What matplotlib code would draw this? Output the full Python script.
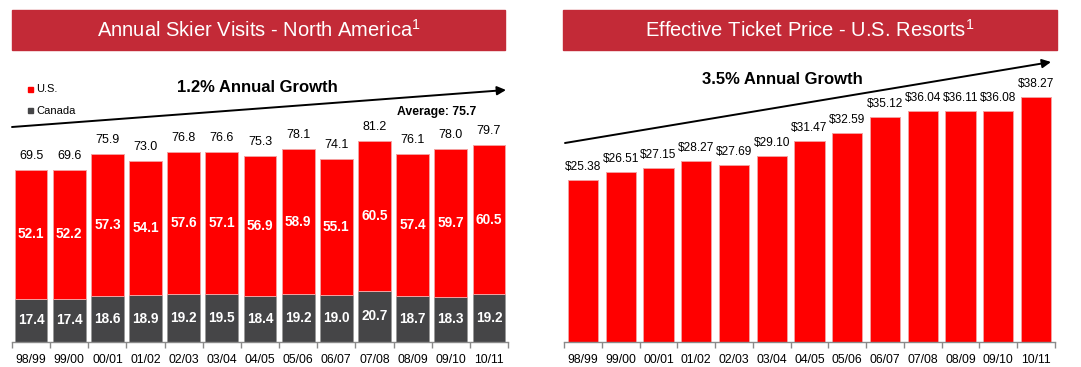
import numpy as np
import matplotlib
matplotlib.use("Agg")
import matplotlib.pyplot as plt
from matplotlib.patches import Rectangle

plt.rcParams['font.family'] = ['Liberation Sans', 'DejaVu Sans']
plt.rcParams['mathtext.fontset'] = 'custom'
plt.rcParams['mathtext.rm'] = 'Liberation Sans'

# ── Data ──────────────────────────────────────────────────────────
seasons = ["98/99", "99/00", "00/01", "01/02", "02/03", "03/04", "04/05",
           "05/06", "06/07", "07/08", "08/09", "09/10", "10/11"]
us_visits     = [52.1, 52.2, 57.3, 54.1, 57.6, 57.1, 56.9, 58.9, 55.1, 60.5, 57.4, 59.7, 60.5]
canada_visits = [17.4, 17.4, 18.6, 18.9, 19.2, 19.5, 18.4, 19.2, 19.0, 20.7, 18.7, 18.3, 19.2]
total_visits  = [69.5, 69.6, 75.9, 73.0, 76.8, 76.6, 75.3, 78.1, 74.1, 81.2, 76.1, 78.0, 79.7]
ticket_price  = [25.38, 26.51, 27.15, 28.27, 27.69, 29.10, 31.47, 32.59, 35.12,
                 36.04, 36.11, 36.08, 38.27]

# ── Style ─────────────────────────────────────────────────────────
W, H = 1081, 367
BANNER = '#C32A37'
RED    = '#FF0000'
GREY   = '#454547'

fig = plt.figure(figsize=(W / 100, H / 100), dpi=100, facecolor='white')


def px_axes(x0, x1, y_top, y_base):
    """axes from pixel coords (y measured from top)"""
    return fig.add_axes([x0 / W, (H - y_base) / H, (x1 - x0) / W, (y_base - y_top) / H])


def style_axis(ax, n):
    for s in ['top', 'right', 'left']:
        ax.spines[s].set_visible(False)
    ax.spines['bottom'].set_color('#8a8a8a')
    ax.spines['bottom'].set_linewidth(1.0)
    ax.set_yticks([])
    ax.set_xlim(-0.5, n - 0.5)
    ax.set_xticks(np.arange(n))
    ax.set_xticklabels(seasons, fontsize=8.8)
    ax.set_xticks(np.arange(n + 1) - 0.5, minor=True)
    ax.tick_params(axis='x', which='major', length=0, pad=8.5)
    ax.tick_params(axis='x', which='minor', length=4, color='#8a8a8a', width=1)


def banner(x0, x1, text):
    fig.patches.append(Rectangle((x0 / W, (H - 50) / H), (x1 - x0) / W, 40 / H,
                                 transform=fig.transFigure, color=BANNER, zorder=0))
    fig.text((x0 + x1) / 2 / W, (H - 30) / H, text, color='white', fontsize=14.5,
             ha='center', va='center')


def arrow(p0, p1):
    fig.add_artist(matplotlib.patches.FancyArrowPatch(
        (p0[0] / W, (H - p0[1]) / H), (p1[0] / W, (H - p1[1]) / H),
        transform=fig.transFigure, arrowstyle='-|>', mutation_scale=13,
        lw=1.4, color='black', shrinkA=0, shrinkB=0))


n = len(seasons)
x = np.arange(n)

# ── Left: skier visits ────────────────────────────────────────────
banner(12, 505, r"Annual Skier Visits - North America$^{1}$")
axL = px_axes(12, 508, 55, 342)
axL.set_ylim(0, 287 / 2.475)
style_axis(axL, n)
axL.bar(x, canada_visits, width=0.86, color=GREY, edgecolor='#9a9a9a', linewidth=0.7)
axL.bar(x, us_visits, bottom=canada_visits, width=0.86, color=RED,
        edgecolor='#f4a0a0', linewidth=0.7)
for i in range(n):
    axL.text(i, total_visits[i] + 14 / 2.475, f"{total_visits[i]:.1f}", ha='center',
             va='center', fontsize=9)
    axL.text(i, canada_visits[i] + us_visits[i] / 2, f"{us_visits[i]:.1f}", ha='center',
             va='center', fontsize=9.8, color='white', fontweight='bold')
    axL.text(i, canada_visits[i] / 2, f"{canada_visits[i]:.1f}", ha='center',
             va='center', fontsize=9.8, color='white', fontweight='bold')

arrow((12, 127), (506, 90))
fig.text(257 / W, (H - 88) / H, "1.2% Annual Growth", ha='center', va='center',
         fontsize=12, fontweight='bold')
fig.text(437 / W, (H - 112) / H, "Average: 75.7", ha='center', va='center',
         fontsize=8.8, fontweight='bold')

# legend
for yy, col, lab in [(89, RED, "U.S."), (111, GREY, "Canada")]:
    fig.patches.append(Rectangle((28 / W, (H - yy - 2.5) / H), 5 / W, 5 / H,
                                 transform=fig.transFigure, color=col))
    fig.text(36 / W, (H - yy) / H, lab, ha='left', va='center', fontsize=8)

# ── Right: ticket price ───────────────────────────────────────────
banner(563, 1057, r"Effective Ticket Price - U.S. Resorts$^{1}$")
axR = px_axes(564, 1055, 55, 342)
axR.set_ylim(0, 287 / 6.40)
style_axis(axR, n)
axR.bar(x, ticket_price, width=0.80, color=RED, edgecolor='#f4a0a0', linewidth=0.7)
for i in range(n):
    axR.text(i, ticket_price[i] + 13 / 6.40, f"${ticket_price[i]:.2f}", ha='center',
             va='center', fontsize=8.6)

arrow((565, 143), (1051, 62))
fig.text(782 / W, (H - 80) / H, "3.5% Annual Growth", ha='center', va='center',
         fontsize=12, fontweight='bold')

fig.savefig("out.png", dpi=100, facecolor='white')
